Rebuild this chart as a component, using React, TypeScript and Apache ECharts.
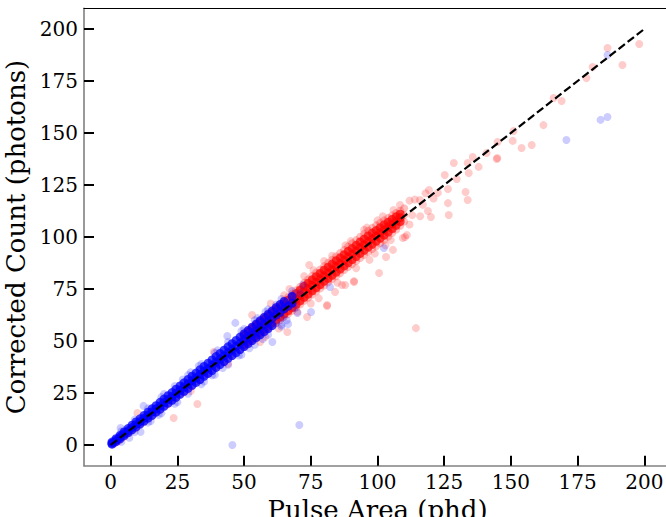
import React, { useEffect, useRef } from "react";
import * as echarts from "echarts";

const xTicks = [0, 25, 50, 75, 100, 125, 150, 175, 200];
const yTicks = [0, 25, 50, 75, 100, 125, 150, 175, 200];
const diagonal = [[0, 0], [200, 200]];

// dense red core (x 50-110)
const redCore = [
  [50, 50.5], [50, 52.6], [50, 48.3], [51.5, 52.0], [51.5, 54.3], [51.5, 49.8], [53, 53.6], [53, 55.9], [53, 51.3],
  [54.5, 55.0], [54.5, 57.4], [54.5, 52.7], [56, 56.5], [56, 58.9], [56, 54.2], [57.5, 58.1], [57.5, 60.5], [57.5, 55.7],
  [59, 59.5], [59, 62.0], [59, 57.1], [60.5, 61.0], [60.5, 63.5], [60.5, 58.6], [62, 62.6], [62, 65.1], [62, 60.1],
  [63.5, 64.0], [63.5, 66.5], [63.5, 61.5], [65, 65.5], [65, 68.0], [65, 63.0], [66.5, 67.1], [66.5, 69.6], [66.5, 64.5],
  [68, 68.5], [68, 71.1], [68, 66.0], [69.5, 70.2], [69.5, 72.8], [69.5, 67.6], [71, 71.9], [71, 74.5], [71, 69.3],
  [72.5, 73.7], [72.5, 76.3], [72.5, 71.0], [74, 75.2], [74, 77.8], [74, 72.5], [75.5, 76.8], [75.5, 79.4], [75.5, 74.1],
  [77, 78.3], [77, 80.9], [77, 75.6], [78.5, 79.8], [78.5, 82.5], [78.5, 77.1], [80, 81.4], [80, 84.1], [80, 78.7],
  [81.5, 82.8], [81.5, 85.5], [81.5, 80.1], [83, 84.3], [83, 87.0], [83, 81.6], [84.5, 85.9], [84.5, 88.6], [84.5, 83.1],
  [86, 87.3], [86, 90.0], [86, 84.6], [87.5, 88.8], [87.5, 91.5], [87.5, 86.1], [89, 90.4], [89, 93.1], [89, 87.6],
  [90.5, 91.8], [90.5, 94.5], [90.5, 89.1], [92, 93.3], [92, 96.0], [92, 90.6], [93.5, 94.9], [93.5, 97.6], [93.5, 92.1],
  [95, 96.3], [95, 99.0], [95, 93.6], [96.5, 97.8], [96.5, 100.5], [96.5, 95.1], [98, 99.2], [98, 101.9], [98, 96.5],
  [99.5, 100.5], [99.5, 103.1], [99.5, 97.9], [101, 102.0], [101, 104.5], [101, 99.4], [102.5, 103.4], [102.5, 105.9], [102.5, 100.9],
  [104, 104.8], [104, 107.1], [104, 102.4], [105.5, 106.3], [105.5, 108.5], [105.5, 104.0], [107, 107.7], [107, 109.7], [107, 105.6],
  [108.5, 109.2], [108.5, 111.0], [108.5, 107.4]
];

// red halo around the dense band
const redHalo = [
  [1, 0.6], [1.5, 0.9], [2.5, 1.8], [3, 2.0], [4, 3.4], [5, 3.9], [6, 5.3], [7, 5.8], [8, 7.2], [9.5, 8.1],
  [11, 10.0], [12.5, 11.0], [14, 13.0], [15.5, 13.8], [17, 15.9], [18.5, 16.8], [20, 18.8], [21.5, 19.6],
  [23, 21.7], [24.5, 22.6], [26, 24.8], [27.5, 25.4], [29, 27.7], [30.5, 28.3], [32, 30.7], [33.5, 31.2],
  [35, 33.6], [36.5, 34.1], [38, 36.6], [39.5, 37.0], [41, 39.5], [42.5, 39.9], [44, 42.5], [45.5, 42.8],
  [47, 45.4], [48.5, 45.8],
  [50, 53.7], [50, 47.1], [51.5, 55.3], [51.5, 48.5], [53, 56.9], [53, 50.0], [54.5, 58.4], [54.5, 51.4],
  [56, 60.0], [56, 52.9], [57.5, 61.6], [57.5, 54.3], [59, 63.2], [59, 55.8], [60.5, 64.7], [60.5, 57.2],
  [62, 66.4], [62, 58.7], [63.5, 67.9], [63.5, 60.1], [65, 69.5], [65, 61.6], [66.5, 71.1], [66.5, 63.0],
  [68, 72.6], [68, 64.5], [69.5, 74.4], [69.5, 66.1], [71, 76.1], [71, 67.6], [72.5, 78.0], [72.5, 69.3],
  [74, 79.6], [74, 70.8], [75.5, 81.3], [75.5, 72.3], [77, 82.8], [77, 73.8], [78.5, 84.4], [78.5, 75.3],
  [80, 86.0], [80, 76.7], [81.5, 87.6], [81.5, 78.2], [83, 89.1], [83, 79.7], [84.5, 90.7], [84.5, 81.1],
  [86, 92.3], [86, 82.6], [87.5, 93.8], [87.5, 84.1], [89, 95.4], [89, 85.5], [90.5, 97.0], [90.5, 87.0],
  [92, 98.5], [92, 88.4], [93.5, 100.1], [93.5, 89.9], [95, 101.6], [95, 91.3], [96.5, 103.0], [96.5, 92.8],
  [98, 104.4], [98, 94.2], [99.5, 105.6], [99.5, 95.5], [101, 106.8], [101, 97.0], [102.5, 108.0], [102.5, 98.6],
  [104, 109.2], [104, 100.2], [105.5, 110.4], [105.5, 101.9], [107, 111.5], [107, 103.6], [108.5, 112.6], [108.5, 105.4],
  [110, 110.6], [110, 113.8], [110, 107.4]
];

const redSparse = [
  [186.2, 190.9], [198.1, 192.8], [191.8, 182.7], [180.6, 181.7], [178.3, 176.4], [166, 166.8], [169, 165.4],
  [162.2, 153.8], [151, 151], [150.7, 146.2], [145, 145.7], [154, 142.8], [157.8, 144.2], [144.7, 137.5], [144.9, 138],
  [140.9, 140.4], [135.7, 138.5], [133.8, 135.6], [128.6, 135.6], [137.9, 133.7], [134.2, 130.8], [125.2, 129.8],
  [129.7, 127.9], [126.4, 123.1], [119.3, 122.6], [133, 121.6], [133.8, 117.8], [126.4, 116.3], [126.7, 110.6],
  [118.9, 112.5], [120, 109.6], [122.6, 121.2], [115.9, 117.8], [108.4, 115.4], [110.3, 100], [105.8, 93.8],
  [103.2, 90.4], [100.6, 82.7], [91.2, 78.4], [87.9, 76.9], [84.1, 73.6], [81.1, 67.3], [74.4, 86.5], [72.5, 81.2],
  [66.2, 54.3], [114.4, 56.2],
  [53, 62.5], [23.6, 13], [32.5, 19.7], [10, 15.4], [38.6, 44.7], [73.6, 61.5], [81.1, 66.8], [86.7, 76.9],
  [91.2, 78.8], [111, 101], [109.5, 99.5], [56, 49.5], [60, 68], [63, 56], [67, 75], [70, 64], [76, 84], [78, 70.5],
  [83, 91], [85, 78], [88, 96], [92, 85], [95, 103.5], [97, 89], [100, 108], [103, 96], [106, 113], [112, 106],
  [114, 118], [116, 110], [118, 121], [112, 117.5], [80, 88.5], [90, 98], [75, 68], [65, 72], [58, 52], [44, 39],
  [30, 26], [96, 104.5], [102, 110], [105, 98.5], [99, 92], [113, 110.5], [117, 115.5], [121, 118.5]
];

const blueCore = [
  [0.5, 0.9], [0.5, 1.4], [0.5, 0.4], [2, 2.3], [2, 3.0], [2, 1.6], [3.5, 3.8], [3.5, 4.6], [3.5, 3.0],
  [5, 5.4], [5, 6.3], [5, 4.5], [6.5, 6.8], [6.5, 7.9], [6.5, 5.9], [8, 8.4], [8, 9.5], [8, 7.3],
  [9.5, 9.9], [9.5, 11.1], [9.5, 8.7], [11, 11.3], [11, 12.6], [11, 10.1], [12.5, 12.9], [12.5, 14.2], [12.5, 11.5],
  [14, 14.3], [14, 15.8], [14, 12.9], [15.5, 15.9], [15.5, 17.4], [15.5, 14.3], [17, 17.4], [17, 18.9], [17, 15.8],
  [18.5, 18.8], [18.5, 20.5], [18.5, 17.2], [20, 20.4], [20, 22.1], [20, 18.6], [21.5, 21.9], [21.5, 23.7], [21.5, 20.1],
  [23, 23.3], [23, 25.2], [23, 21.5], [24.5, 24.9], [24.5, 26.8], [24.5, 22.9], [26, 26.4], [26, 28.4], [26, 24.4],
  [27.5, 27.8], [27.5, 29.9], [27.5, 25.8], [29, 29.4], [29, 31.5], [29, 27.2], [30.5, 30.9], [30.5, 33.1], [30.5, 28.7],
  [32, 32.3], [32, 34.6], [32, 30.1], [33.5, 33.9], [33.5, 36.2], [33.5, 31.5], [35, 35.4], [35, 37.8], [35, 33.0],
  [36.5, 36.8], [36.5, 39.3], [36.5, 34.4], [38, 38.4], [38, 40.9], [38, 35.8], [39.5, 39.9], [39.5, 42.5], [39.5, 37.3],
  [41, 41.3], [41, 44.0], [41, 38.7], [42.5, 42.9], [42.5, 45.6], [42.5, 40.1], [44, 44.4], [44, 47.2], [44, 41.6],
  [45.5, 45.8], [45.5, 48.7], [45.5, 43.0], [47, 47.4], [47, 50.3], [47, 44.4], [48.5, 48.9], [48.5, 51.9], [48.5, 45.9],
  [50, 50.3], [50, 53.4], [50, 47.3], [51.5, 51.9], [51.5, 55.0], [51.5, 48.7], [53, 53.4], [53, 56.6], [53, 50.2],
  [54.5, 54.8], [54.5, 58.1], [54.5, 51.6], [56, 56.4], [56, 59.7], [56, 53.0], [57.5, 57.9], [57.5, 61.3], [57.5, 54.5],
  [59, 59.3], [59, 62.8], [59, 55.9], [60.5, 60.9], [60.5, 64.4], [60.5, 57.4], [62, 62.4], [62, 66.0],
  [63.5, 63.8], [63.5, 67.5], [65, 65.4], [65, 69.0], [66.5, 66.8], [68, 68.2], [68, 71.5]
];

const blueSparse = [
  [12.3, 18.8], [46.7, 58.7], [43.7, 52.4], [60.6, 49.5], [75.1, 63.9], [66.5, 58.2], [82.2, 76], [102.4, 94.7],
  [70.7, 9.6], [45.6, 0], [170.8, 146.6], [183.6, 156.3], [186.2, 157.7], [186.2, 187.5], [11.2, 6.3], [3.7, 8.2],
  [7, 3.5], [15, 11.5], [20, 24.5], [25, 20.6], [30, 35], [35, 30.5], [40, 45.5], [42, 37], [50, 55.8], [52, 46.5],
  [55, 61], [57, 51], [62, 67.5], [64, 57], [68, 74], [70, 63.5], [72, 77], [38, 33.5], [27, 31.5], [18, 14.5],
  [33, 38], [48, 43], [58, 64], [66, 60], [62, 58.5], [64.5, 61], [69, 66], [71, 73],
  [4, 6.6], [4, 1.6], [9, 12.2], [9, 6.2], [14, 17.6], [14, 10.8], [19, 23.0], [19, 15.3], [24, 28.3], [24, 19.8],
  [29, 33.6], [29, 24.6], [34, 38.9], [34, 29.2], [39, 44.2], [39, 33.8], [44, 49.5], [44, 38.6], [49, 54.8],
  [49, 43.4], [54, 60.0], [54, 48.2], [59, 65.2], [59, 53.0], [64, 70.2], [64, 57.8]
];

const FONT = "DejaVu Serif";

export default function App() {
  const ref = useRef<HTMLDivElement>(null);
  useEffect(() => {
    document.body.style.margin = "0";
    document.body.style.overflow = "hidden";
    if (!ref.current) return;
    const chart = echarts.init(ref.current, null, { renderer: "svg" });
    const tickStyle = { show: true, inside: true, length: 10, lineStyle: { color: "#000", width: 2 } };
    chart.setOption({
      animation: false,
      backgroundColor: "#fff",
      grid: { left: 84, top: 8.2, width: 587, height: 457.6, containLabel: false, outerBoundsMode: "none", show: false },
      xAxis: [
        {
          type: "value", min: -10, max: 210, position: "bottom",
          axisLine: { show: true, onZero: false, lineStyle: { color: "#808080", width: 1.6 } },
          axisTick: { ...tickStyle, customValues: xTicks },
          axisLabel: { customValues: xTicks, color: "#000", fontFamily: FONT, fontSize: 20, margin: 6 },
          splitLine: { show: false },
          name: "Pulse Area (phd)", nameLocation: "middle", nameGap: 21,
          nameTextStyle: { color: "#000", fontFamily: FONT, fontSize: 26 }
        },
        {
          type: "value", min: -10, max: 210, position: "top",
          axisLine: { show: true, onZero: false, lineStyle: { color: "#000", width: 1.2 } },
          axisTick: { show: false }, axisLabel: { show: false }, splitLine: { show: false }
        }
      ],
      yAxis: {
        type: "value", min: -10, max: 210,
        axisLine: { show: true, onZero: false, lineStyle: { color: "#808080", width: 1.6 } },
        axisTick: { ...tickStyle, customValues: yTicks },
        axisLabel: { customValues: yTicks, color: "#000", fontFamily: FONT, fontSize: 20, margin: 6 },
        splitLine: { show: false },
        name: "Corrected Count (photons)", nameLocation: "middle", nameGap: 46,
        nameTextStyle: { color: "#000", fontFamily: FONT, fontSize: 26 }
      },
      series: [
        { type: "scatter", data: redHalo, symbolSize: 8, silent: true, itemStyle: { color: "#ff0000", opacity: 0.25 } },
        { type: "scatter", data: redSparse, symbolSize: 8, silent: true, itemStyle: { color: "#ff0000", opacity: 0.2 } },
        { type: "scatter", data: redCore, symbolSize: 9, silent: true, itemStyle: { color: "#ff0000", opacity: 0.7 } },
        { type: "scatter", data: blueSparse, symbolSize: 8, silent: true, itemStyle: { color: "#0000ff", opacity: 0.2 } },
        { type: "scatter", data: blueCore, symbolSize: 9, silent: true, itemStyle: { color: "#0000ff", opacity: 0.75 } },
        {
          type: "line", data: diagonal, showSymbol: false, silent: true, z: 10,
          lineStyle: { color: "#000", width: 2.2, type: [8, 3.5] }
        }
      ]
    });
    return () => chart.dispose();
  }, []);
  return <div ref={ref} style={{ position: "fixed", left: 0, top: 0, width: 666, height: 517 }} />;
}
